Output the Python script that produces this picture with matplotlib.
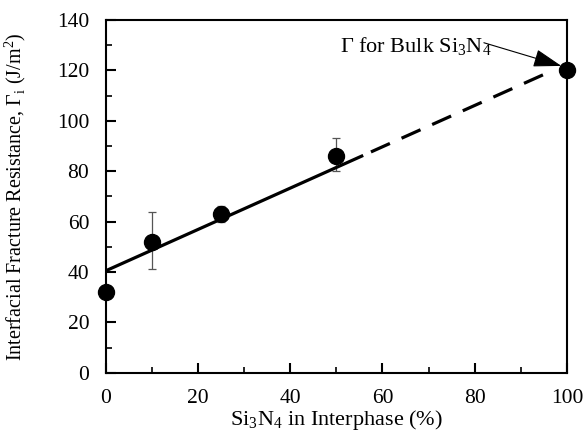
import numpy as np
import matplotlib.pyplot as plt
from matplotlib.ticker import MultipleLocator

plt.rcParams['font.family'] = ['Liberation Serif', 'DejaVu Serif']
plt.rcParams['mathtext.fontset'] = 'custom'
plt.rcParams['mathtext.rm'] = 'Liberation Serif'

# data
si3n4_pct = [0, 10, 25, 50, 100]
gamma_i = [32, 52, 63, 86, 120]
err_lo = [0, 11, 3, 6, 0]
err_hi = [0, 12, 3, 7, 0]

# linear fit shown in the figure
fit_intercept = 40.5
fit_slope = 0.82
solid_x = [0, 55.5]
dashed_x = [57.5, 96.5]

fig = plt.figure(figsize=(5.85, 4.36), dpi=100)
ax = fig.add_axes([0.181, 0.145, 0.788, 0.809])

xs = np.array(solid_x)
ax.plot(xs, fit_intercept + fit_slope * xs, color='black', lw=2.3, zorder=2)
xd = np.array(dashed_x)
ax.plot(xd, fit_intercept + fit_slope * xd, color='black', lw=2.3,
        dashes=(6.5, 4), zorder=2)

ax.errorbar(si3n4_pct, gamma_i, yerr=[err_lo, err_hi], fmt='none',
            ecolor='#555555', elinewidth=0.9, capsize=3, capthick=0.9, zorder=1)
ax.plot(si3n4_pct, gamma_i, 'o', color='black', ms=11.5, zorder=3, clip_on=False)

ax.text(50.8, 127.3, r'$\Gamma$ for Bulk Si$_3$N$_4$', fontsize=16, va='baseline')
ax.annotate('', xy=(98.8, 121.8), xytext=(82, 131),
            arrowprops=dict(arrowstyle='-|>,head_length=1.1,head_width=0.35',
                            color='black', lw=0.8, shrinkA=0, shrinkB=0,
                            mutation_scale=16))

ax.set_xlim(0, 100)
ax.set_ylim(0, 140)
ax.xaxis.set_major_locator(MultipleLocator(20))
ax.xaxis.set_minor_locator(MultipleLocator(10))
ax.yaxis.set_major_locator(MultipleLocator(20))
ax.yaxis.set_minor_locator(MultipleLocator(10))
ax.tick_params(which='both', direction='in', top=False, right=False, labelsize=15.5)
ax.tick_params(which='major', length=7, width=1.5)
ax.tick_params(which='minor', length=4, width=1.2)
ax.tick_params(axis='x', pad=12)
ax.tick_params(axis='y', pad=12)
for s in ax.spines.values():
    s.set_linewidth(1.5)

ax.set_xlabel(r'Si$_3$N$_4$ in Interphase (%)', fontsize=16, labelpad=0)
ax.set_ylabel(r'Interfacial Fracture Resistance, $\Gamma_{\rm i}$ (J/m$^2$)',
              fontsize=14.5)
ax.yaxis.set_label_coords(-0.17, 0.5)

fig.savefig('out.png', dpi=100)
